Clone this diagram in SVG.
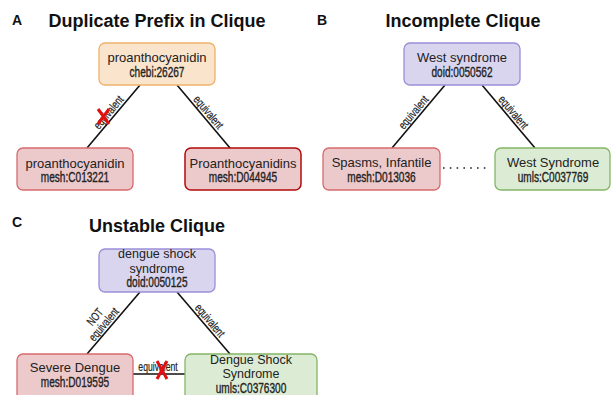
<svg xmlns="http://www.w3.org/2000/svg" width="611" height="395" viewBox="0 0 611 395">
<style>
.bg{fill:#ffffff}
.letter{font-family:"Liberation Sans",Arial,sans-serif;font-weight:bold;font-size:14px;fill:#111}
.title{font-family:"Liberation Sans",Arial,sans-serif;font-weight:bold;font-size:18px;fill:#111;text-anchor:middle}
.nm{font-family:"Liberation Sans",Arial,sans-serif;font-size:13px;fill:#222;text-anchor:middle}
.nm2{font-family:"Liberation Sans",Arial,sans-serif;font-size:12.5px;fill:#222;text-anchor:middle}
.id{font-family:"Liberation Sans",Arial,sans-serif;font-size:14px;fill:#222;text-anchor:middle;stroke:#222;stroke-width:0.35}
.lbl{font-family:"Liberation Sans",Arial,sans-serif;font-size:12px;fill:#222;text-anchor:middle;stroke:#222;stroke-width:0.2}
.orange{fill:#fae4cb;stroke:#efb26c;stroke-width:1.3}
.purple{fill:#d9d5ee;stroke:#9a8fd8;stroke-width:1.3}
.red{fill:#ecc9ca;stroke:#d76b6d;stroke-width:1.3}
.dred{fill:#ecc9ca;stroke:#b20a0a;stroke-width:1.5}
.green{fill:#dcebd3;stroke:#84b567;stroke-width:1.3}
.edge{stroke:#111;stroke-width:1.6;fill:none}
.dots{stroke:#222;stroke-width:1.6;fill:none;stroke-dasharray:1.6 5.2}
.x{stroke:#e01010;stroke-width:3;stroke-linecap:butt}
</style>
<rect class="bg" width="611" height="395"/>

<!-- Panel headings -->
<text class="letter" x="12" y="25">A</text>
<text class="title" x="157" y="27">Duplicate Prefix in Clique</text>
<text class="letter" x="317" y="25">B</text>
<text class="title" x="463" y="27">Incomplete Clique</text>
<text class="letter" x="12" y="227">C</text>
<text class="title" x="157" y="232">Unstable Clique</text>

<!-- Connectors -->
<g id="connectors">
  <!-- Panel A -->
  <line class="edge" x1="140" y1="85" x2="87" y2="148"/>
  <line class="edge" x1="177" y1="85" x2="230" y2="148"/>
  <g transform="translate(113.5,116.5) rotate(-50)"><text class="lbl" transform="scale(0.72,1)" x="0" y="-2.5">equivalent</text></g>
  <g transform="translate(203.5,116.5) rotate(50)"><text class="lbl" transform="scale(0.72,1)" x="0" y="-2.5">equivalent</text></g>
  <line class="x" x1="98" y1="109" x2="109" y2="124"/>
  <line class="x" x1="109" y1="109" x2="98" y2="124"/>
  <!-- Panel B -->
  <line class="edge" x1="445" y1="85" x2="392" y2="148"/>
  <line class="edge" x1="482" y1="85" x2="535" y2="148"/>
  <g transform="translate(418.5,116.5) rotate(-50)"><text class="lbl" transform="scale(0.72,1)" x="0" y="-2.5">equivalent</text></g>
  <g transform="translate(508.5,116.5) rotate(50)"><text class="lbl" transform="scale(0.72,1)" x="0" y="-2.5">equivalent</text></g>
  <line class="dots" x1="443" y1="168" x2="490" y2="168"/>
  <!-- Panel C -->
  <line class="edge" x1="140" y1="292" x2="87" y2="354"/>
  <line class="edge" x1="177" y1="292" x2="230" y2="354"/>
  <line class="edge" x1="133" y1="374" x2="185" y2="374"/>
  <g transform="translate(113.5,323) rotate(-50)">
    <text class="lbl" transform="scale(0.72,1)" x="-10" y="-14">NOT</text>
    <text class="lbl" transform="scale(0.72,1)" x="-10" y="-2.5">equivalent</text>
  </g>
  <g transform="translate(203.5,323) rotate(50)"><text class="lbl" transform="scale(0.72,1)" x="3" y="-2.5">equivalent</text></g>
  <g transform="translate(158,371)"><text class="lbl" transform="scale(0.72,1)" x="0" y="0">equivalent</text></g>
  <line class="x" x1="157" y1="361" x2="167" y2="379"/>
  <line class="x" x1="167" y1="361" x2="157" y2="379"/>
</g>

<!-- Panel A nodes -->
<g id="a-chebi">
  <rect class="orange" x="99" y="43" width="116" height="42" rx="6"/>
  <text class="nm" x="157" y="62">proanthocyanidin</text>
  <text class="id" transform="translate(157,77) scale(0.72,1)">chebi:26267</text>
</g>
<g id="a-mesh-c013221">
  <rect class="red" x="17" y="148" width="116" height="42" rx="6"/>
  <text class="nm" x="75" y="168">proanthocyanidin</text>
  <text class="id" transform="translate(75,182) scale(0.72,1)">mesh:C013221</text>
</g>
<g id="a-mesh-d044945">
  <rect class="dred" x="185" y="148" width="116" height="42" rx="6"/>
  <text class="nm" x="243" y="168">Proanthocyanidins</text>
  <text class="id" transform="translate(243,182) scale(0.72,1)">mesh:D044945</text>
</g>

<!-- Panel B nodes -->
<g id="b-doid">
  <rect class="purple" x="404" y="43" width="116" height="42" rx="6"/>
  <text class="nm" x="462" y="62">West syndrome</text>
  <text class="id" transform="translate(462,77) scale(0.72,1)">doid:0050562</text>
</g>
<g id="b-mesh">
  <rect class="red" x="323" y="148" width="117" height="42" rx="6"/>
  <text class="nm" x="381.5" y="167">Spasms, Infantile</text>
  <text class="id" transform="translate(381.5,182) scale(0.72,1)">mesh:D013036</text>
</g>
<g id="b-umls">
  <rect class="green" x="495" y="148" width="115" height="42" rx="6"/>
  <text class="nm" x="553" y="167">West Syndrome</text>
  <text class="id" transform="translate(553,182) scale(0.72,1)">umls:C0037769</text>
</g>

<!-- Panel C nodes -->
<g id="c-doid">
  <rect class="purple" x="99" y="249" width="116" height="43" rx="6"/>
  <text class="nm2" x="157" y="258">dengue shock</text>
  <text class="nm2" x="157" y="272.5">syndrome</text>
  <text class="id" transform="translate(157,287) scale(0.72,1)">doid:0050125</text>
</g>
<g id="c-mesh">
  <rect class="red" x="17" y="354" width="116" height="46" rx="6"/>
  <text class="nm" x="75" y="372">Severe Dengue</text>
  <text class="id" transform="translate(75,387) scale(0.72,1)">mesh:D019595</text>
</g>
<g id="c-umls">
  <rect class="green" x="185" y="354" width="132" height="46" rx="6"/>
  <text class="nm2" x="251" y="363.5">Dengue Shock</text>
  <text class="nm2" x="251" y="378">Syndrome</text>
  <text class="id" transform="translate(251,392.5) scale(0.72,1)">umls:C0376300</text>
</g>
</svg>
